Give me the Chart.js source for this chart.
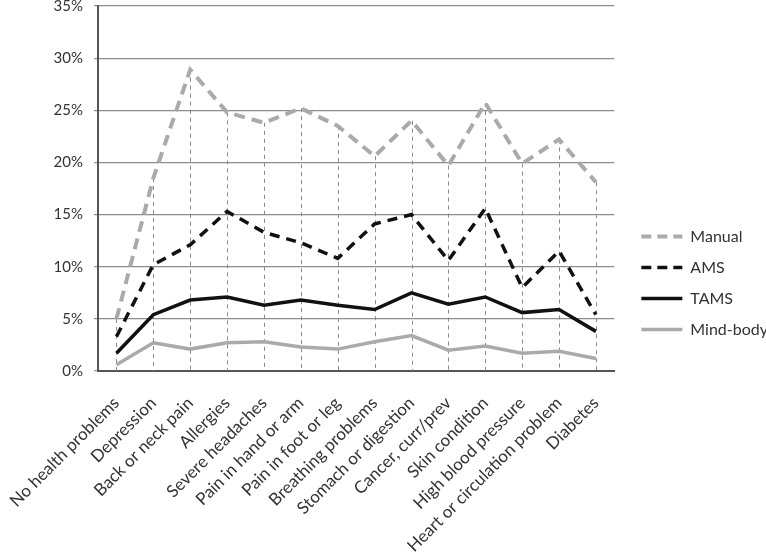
<!DOCTYPE html>
<html>
<head>
<meta charset="utf-8">
<script src="https://cdn.jsdelivr.net/npm/chart.js@4.4.0/dist/chart.umd.min.js"></script>
<style>
  html, body { margin: 0; padding: 0; background: #fff; }
  #wrap { width: 766px; height: 560px; }
</style>
</head>
<body>
<div id="wrap"><canvas id="chart" width="766" height="560"></canvas></div>
<script>
// health problem categories
const categories = [
    'No health problems', 'Depression', 'Back or neck pain', 'Allergies',
    'Severe headaches', 'Pain in hand or arm', 'Pain in foot or leg',
    'Breathing problems', 'Stomach or digestion', 'Cancer, curr/prev',
    'Skin condition', 'High blood pressure', 'Heart or circulation problem', 'Diabetes'
];

// percent of respondents using each therapy type
const manual   = [5.0, 18.5, 28.9, 24.8, 23.8, 25.2, 23.5, 20.6, 24.0, 19.7, 25.7, 19.9, 22.2, 18.1];
const ams      = [3.3, 10.2, 12.1, 15.3, 13.3, 12.3, 10.8, 14.1, 15.0, 10.6, 15.6, 8.0, 11.5, 5.4];
const tams     = [1.7, 5.4, 6.8, 7.1, 6.3, 6.8, 6.3, 5.9, 7.5, 6.4, 7.1, 5.6, 5.9, 3.8];
const mindBody = [0.6, 2.7, 2.1, 2.7, 2.8, 2.3, 2.1, 2.8, 3.4, 2.0, 2.4, 1.7, 1.9, 1.2];

const yTicks = [0, 5, 10, 15, 20, 25, 30, 35];

const FONT = 'Lato';

// dashed drop lines from the highest point down to the axis
const dropLines = {
    id: 'dropLines',
    beforeDatasetsDraw(chart) {
        const ctx = chart.ctx;
        const bottom = chart.chartArea.bottom;
        ctx.save();
        ctx.strokeStyle = '#8a8a8a';
        ctx.lineWidth = 1;
        ctx.setLineDash([4, 4]);
        categories.forEach((c, i) => {
            let top = bottom;
            let x = 0;
            chart.data.datasets.forEach((ds, d) => {
                const pt = chart.getDatasetMeta(d).data[i];
                x = pt.x;
                top = Math.min(top, pt.y);
            });
            ctx.beginPath();
            ctx.moveTo(Math.round(x) + 0.5, top);
            ctx.lineTo(Math.round(x) + 0.5, bottom);
            ctx.stroke();
        });
        ctx.restore();
    }
};

// push the legend a bit away from the plot area
const legendShift = {
    id: 'legendShift',
    afterLayout(chart) {
        chart.legend.left += 12;
        chart.legend.right += 12;
    }
};

new Chart(document.getElementById('chart'), {
    type: 'line',
    data: {
        labels: categories,
        datasets: [
            { label: 'Manual', data: manual, borderColor: '#aaaaaa', backgroundColor: '#aaaaaa',
              borderWidth: 4, borderDash: [11, 7] },
            { label: 'AMS', data: ams, borderColor: '#111111', backgroundColor: '#111111',
              borderWidth: 3.5, borderDash: [10, 7] },
            { label: 'TAMS', data: tams, borderColor: '#111111', backgroundColor: '#111111',
              borderWidth: 3.5 },
            { label: 'Mind-body', data: mindBody, borderColor: '#aaaaaa', backgroundColor: '#aaaaaa',
              borderWidth: 3.5 }
        ]
    },
    options: {
        responsive: false,
        animation: false,
        elements: { point: { radius: 0, hoverRadius: 0 }, line: { tension: 0 } },
        layout: { padding: { top: 6, right: 0, left: 0, bottom: 0 } },
        plugins: {
            legend: {
                position: 'right',
                labels: {
                    usePointStyle: true,
                    pointStyle: 'line',
                    pointStyleWidth: 41,
                    padding: 15,
                    color: '#333',
                    font: { family: FONT, size: 16 },
                    generateLabels: chart =>
                        Chart.defaults.plugins.legend.labels.generateLabels(chart).map(item => {
                            const ds = chart.data.datasets[item.datasetIndex];
                            item.lineDash = ds.borderDash ? [10, 6] : [];
                            item.lineWidth = ds.borderWidth;
                            item.strokeStyle = ds.borderColor;
                            return item;
                        })
                }
            },
            tooltip: { enabled: false }
        },
        scales: {
            x: {
                offset: true,
                grid: { display: false, drawTicks: false },
                border: { color: '#555', width: 2 },
                ticks: {
                    autoSkip: false, maxRotation: 45, minRotation: 45,
                    color: '#333', padding: 22,
                    font: { family: FONT, size: 17 }
                },
                afterFit: s => { s.height = 189; s.paddingLeft = 0; s.paddingRight = 0; }
            },
            y: {
                min: 0, max: 35,
                afterBuildTicks: s => { s.ticks = yTicks.map(v => ({ value: v })); },
                grid: { color: '#8c8c8c', lineWidth: 1.2, tickLength: 4 },
                border: { color: '#555', width: 2 },
                ticks: {
                    color: '#333', padding: 11,
                    font: { family: FONT, size: 15 },
                    callback: v => v + '%'
                },
                afterFit: s => { s.width = 98; s.paddingTop = 0; s.paddingBottom = 0; }
            }
        }
    },
    plugins: [dropLines, legendShift]
});
</script>
</body>
</html>
